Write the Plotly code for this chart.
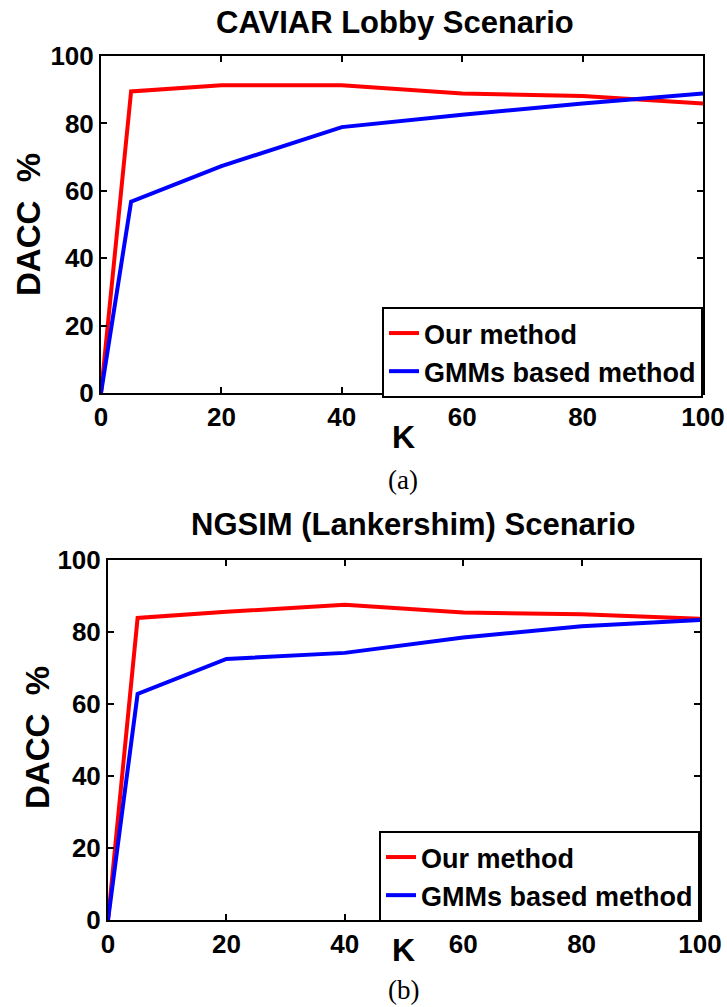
import plotly.graph_objects as go

# K values (number of clusters) shared by both scenarios
k_values = [0, 5, 20, 40, 60, 80, 100]

# CAVIAR Lobby scenario accuracy (%)
caviar_ours = [0, 89.5, 91.3, 91.3, 88.9, 88.1, 85.9]
caviar_gmm = [0, 56.8, 67.3, 78.9, 82.6, 85.9, 88.9]

# NGSIM (Lankershim) scenario accuracy (%)
ngsim_ours = [0, 83.9, 85.6, 87.6, 85.4, 84.9, 83.7]
ngsim_gmm = [0, 62.8, 72.5, 74.2, 78.5, 81.6, 83.3]

tick_vals = [0, 20, 40, 60, 80, 100]
tick_text = ["0", "20", "40", "60", "80", "100"]

W, H = 727, 1007
RED, BLUE = "#ff0000", "#0000ff"
SANS = "Liberation Sans, Arial, sans-serif"
SERIF = "Liberation Serif, Times New Roman, serif"


def px(x):
    return x / W


def py(y):
    return 1 - y / H


fig = go.Figure()

fig.add_trace(go.Scatter(x=k_values, y=caviar_ours, mode="lines", name="Our method",
                         line=dict(color=RED, width=4), xaxis="x", yaxis="y", legend="legend"))
fig.add_trace(go.Scatter(x=k_values, y=caviar_gmm, mode="lines", name="GMMs based method",
                         line=dict(color=BLUE, width=4), xaxis="x", yaxis="y", legend="legend"))
fig.add_trace(go.Scatter(x=k_values, y=ngsim_ours, mode="lines", name="Our method",
                         line=dict(color=RED, width=4), xaxis="x2", yaxis="y2", legend="legend2"))
fig.add_trace(go.Scatter(x=k_values, y=ngsim_gmm, mode="lines", name="GMMs based method",
                         line=dict(color=BLUE, width=4), xaxis="x2", yaxis="y2", legend="legend2"))

axis_style = dict(
    range=[0, 100], tickvals=tick_vals, ticktext=tick_text, automargin=False,
    showgrid=False, zeroline=False, showline=True, linecolor="black", linewidth=2,
    mirror="ticks", ticks="inside", ticklen=6, tickwidth=1.5, tickcolor="black",
    tickfont=dict(family=SANS, size=26, color="black", weight="bold"),
)

legend_style = dict(
    bgcolor="white", bordercolor="black", borderwidth=2,
    font=dict(family=SANS, size=27, color="black", weight="bold"),
    xanchor="right", yanchor="top", tracegroupgap=0, itemwidth=30,
)

fig.update_layout(
    width=W, height=H,
    margin=dict(l=0, r=0, t=0, b=0),
    paper_bgcolor="white", plot_bgcolor="white",
    xaxis=dict(domain=[px(101), px(703)], anchor="y", ticklabelstandoff=0, **axis_style),
    yaxis=dict(domain=[py(393), py(56)], anchor="x", ticklabelstandoff=0, **axis_style),
    xaxis2=dict(domain=[px(108), px(700)], anchor="y2", ticklabelstandoff=0, **axis_style),
    yaxis2=dict(domain=[py(920), py(560)], anchor="x2", ticklabelstandoff=0, **axis_style),
    legend=dict(x=px(703), y=py(307), **legend_style),
    legend2=dict(x=px(700), y=py(831), **legend_style),
    showlegend=True,
)

annotations = [
    dict(text="CAVIAR Lobby Scenario", x=px(395), y=py(22),
         font=dict(family=SANS, size=31, weight="bold")),
    dict(text="NGSIM (Lankershim) Scenario", x=px(413), y=py(524),
         font=dict(family=SANS, size=31, weight="bold")),
    dict(text="K", x=px(403), y=py(437), font=dict(family=SANS, size=32, weight="bold")),
    dict(text="K", x=px(403), y=py(950), font=dict(family=SANS, size=32, weight="bold")),
    dict(text="(a)", x=px(403), y=py(480), font=dict(family=SERIF, size=27)),
    dict(text="(b)", x=px(403), y=py(990), font=dict(family=SERIF, size=27)),
    dict(text="DACC\u00a0\u00a0%", x=px(28), y=py(225), textangle=-90,
         font=dict(family=SANS, size=33, weight="bold")),
    dict(text="DACC\u00a0\u00a0%", x=px(37), y=py(738), textangle=-90,
         font=dict(family=SANS, size=33, weight="bold")),
]
for a in annotations:
    a.update(xref="paper", yref="paper", showarrow=False, xanchor="center", yanchor="middle")
    a["font"].setdefault("color", "black")
fig.update_layout(annotations=annotations)

fig.write_html("out.html")
